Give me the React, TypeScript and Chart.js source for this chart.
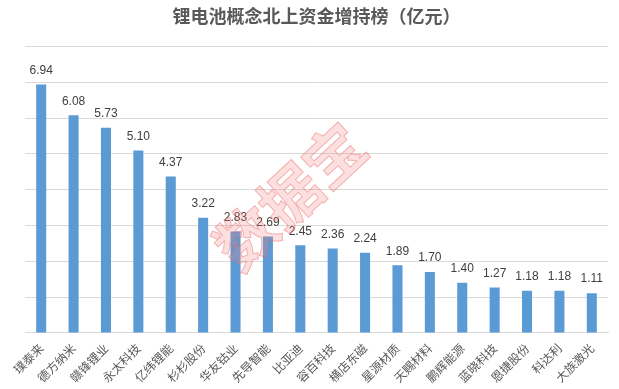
import React, { useEffect, useRef } from "react";
import { Chart, registerables } from "chart.js";

Chart.register(...registerables);

const categories = ["璞泰来", "德方纳米", "赣锋锂业", "永太科技", "亿纬锂能", "杉杉股份", "华友钴业", "先导智能", "比亚迪", "容百科技", "横店东磁", "星源材质", "天赐材料", "鹏辉能源", "蓝晓科技", "恩捷股份", "科达利", "大族激光"];
const values = [6.94, 6.08, 5.73, 5.10, 4.37, 3.22, 2.83, 2.69, 2.45, 2.36, 2.24, 1.89, 1.70, 1.40, 1.27, 1.18, 1.18, 1.11];
const titleText = "锂电池概念北上资金增持榜（亿元）";
const watermark = "数据宝";

export default function App() {
  const ref = useRef<HTMLCanvasElement | null>(null);
  useEffect(() => {
    document.body.style.margin = "0";
    const labelPlugin = {
      id: "valueLabels",
      afterDatasetsDraw(chart: any) {
        const ctx = chart.ctx;
        const meta = chart.getDatasetMeta(0);
        ctx.save();
        ctx.font = "12px 'Liberation Sans', Arial, sans-serif";
        ctx.fillStyle = "#404040";
        ctx.textAlign = "center";
        ctx.textBaseline = "middle";
        meta.data.forEach((bar: any, i: number) => {
          ctx.fillText(values[i].toFixed(2), bar.x, bar.y - 14);
        });
        ctx.restore();
      },
      afterDraw(chart: any) {
        const ctx = chart.ctx;
        ctx.save();
        ctx.translate(290, 196);
        ctx.rotate(-0.75);
        ctx.font = "bold 60px 'Noto Sans CJK SC', sans-serif";
        ctx.textAlign = "center";
        ctx.textBaseline = "middle";
        ctx.fillStyle = "rgba(245, 130, 130, 0.25)";
        ctx.strokeStyle = "rgba(235, 100, 100, 0.45)";
        ctx.lineWidth = 1;
        ctx.fillText(watermark, 0, 0);
        ctx.strokeText(watermark, 0, 0);
        ctx.restore();
      },
    };
    const chart = new Chart(ref.current as HTMLCanvasElement, {
      type: "bar",
      data: {
        labels: categories,
        datasets: [
          {
            data: values,
            backgroundColor: "#5b9bd5",
            categoryPercentage: 1,
            barPercentage: 0.31,
          },
        ],
      },
      options: {
        animation: false,
        responsive: false,
        layout: { padding: { left: 25, right: 11, top: 0, bottom: 4 } },
        plugins: {
          legend: { display: false },
          tooltip: { enabled: false },
          title: {
            display: true,
            text: titleText,
            color: "#595959",
            font: { size: 18, weight: "bold", family: "'Noto Sans CJK SC', sans-serif" },
            padding: { top: 5, bottom: 20 },
          },
        },
        scales: {
          x: {
            grid: { display: false },
            border: { color: "#d9d9d9" },
            ticks: {
              color: "#595959",
              font: { size: 12, family: "'Noto Sans CJK SC', sans-serif" },
              minRotation: 45,
              maxRotation: 45,
              autoSkip: false,
              padding: 0,
            },
          },
          y: {
            min: 0,
            max: 8,
            ticks: { display: false, stepSize: 1 },
            grid: { color: "#d9d9d9", drawTicks: false },
            border: { display: false },
          },
        },
      },
      plugins: [labelPlugin],
    });
    return () => chart.destroy();
  }, []);
  return (
    <div style={{ width: 619, height: 389 }}>
      <canvas ref={ref} width={619} height={389} />
    </div>
  );
}
